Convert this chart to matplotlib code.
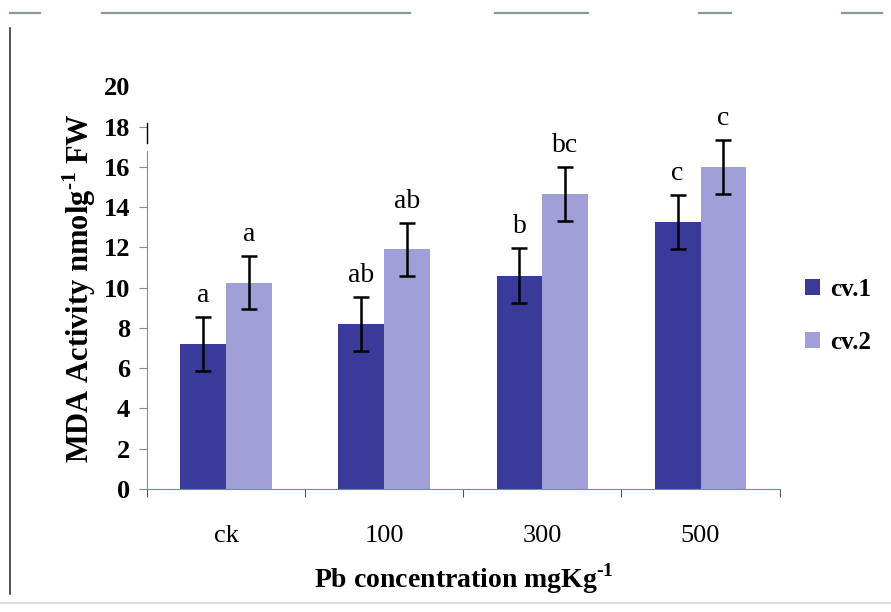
import numpy as np
import matplotlib.pyplot as plt
from matplotlib.lines import Line2D

# data
categories = ["ck", "100", "300", "500"]
cv1 = [7.2, 8.2, 10.6, 13.25]
cv2 = [10.25, 11.9, 14.65, 16.0]
cv1_err = [1.35, 1.35, 1.35, 1.35]
cv2_err = [1.3, 1.3, 1.35, 1.35]
cv1_letters = ["a", "ab", "b", "c"]
cv2_letters = ["a", "ab", "bc", "c"]

c1 = "#3a3a9a"
c2 = "#a19fd8"
serif = "Liberation Serif"
plt.rcParams["mathtext.fontset"] = "custom"
plt.rcParams["mathtext.rm"] = "Liberation Serif:bold"
plt.rcParams["mathtext.bf"] = "Liberation Serif:bold"

fig = plt.figure(figsize=(8.91, 6.12), dpi=100)
ax = fig.add_axes([0.165, 0.201, 0.71, 0.658])

x = np.arange(len(categories))
w = 0.29
ekw = dict(ecolor="black", elinewidth=1.8, capsize=6, capthick=1.8)
ax.bar(x - w / 2, cv1, w, color=c1, yerr=cv1_err, error_kw=ekw, label="cv.1", zorder=2)
ax.bar(x + w / 2, cv2, w, color=c2, yerr=cv2_err, error_kw=ekw, label="cv.2", zorder=2)

for i in range(len(categories)):
    ax.text(x[i] - w / 2, cv1[i] + cv1_err[i] + 0.45, cv1_letters[i],
            ha="center", va="bottom", fontsize=20, family=serif)
    ax.text(x[i] + w / 2, cv2[i] + cv2_err[i] + 0.45, cv2_letters[i],
            ha="center", va="bottom", fontsize=20, family=serif)

ax.set_xlim(-0.5, len(categories) - 0.5)
ax.set_ylim(0, 20)
ax.set_yticks(np.arange(0, 21, 2))
ax.set_xticks(np.arange(-0.5, len(categories), 1))
ax.set_xticklabels([])
ax.set_xticks(x, minor=True)
ax.set_xticklabels(categories, minor=True, fontsize=19, family=serif)
ax.tick_params(axis="x", which="minor", length=0, pad=26)
ax.tick_params(axis="x", which="major", length=6, direction="out", color="#555555")
ax.tick_params(axis="y", length=6, direction="out", pad=6, color="#7a88a0")
for lab in ax.get_yticklabels():
    lab.set_family(serif)
    lab.set_fontsize(19)
    lab.set_fontweight("bold")
ax.yaxis.get_major_ticks()[-1].tick1line.set_visible(False)

for s in ["top", "right"]:
    ax.spines[s].set_visible(False)
ax.spines["left"].set_bounds(0, 16.8)
ax.spines["bottom"].set_color("#6a8fa8")
ax.spines["left"].set_color("#8090a8")
# short dark segment at top of the y axis, as in the scan
ax.plot([-0.5, -0.5], [17.2, 18.2], color="black", lw=1.0, clip_on=False)

ax.set_ylabel("MDA Activity nmolg$^{\\text{-}1}$ FW", fontsize=22, fontweight="bold",
              family=serif, labelpad=4)
ax.set_xlabel("Pb concentration mgKg$^{\\text{-}1}$", fontsize=20, fontweight="bold",
              family=serif, labelpad=10)

leg = ax.legend(loc="center left", bbox_to_anchor=(1.005, 0.43), frameon=False,
                prop={"family": serif, "size": 18, "weight": "bold"}, handlelength=0.6,
                handleheight=0.6, handletextpad=0.4, labelspacing=1.2)

# scan frame remnants
fig.add_artist(Line2D([0.011, 0.011], [0.03, 0.955], color="#333333", lw=1.2))
for x0, x1 in [(0.011, 0.045), (0.115, 0.46), (0.555, 0.66), (0.785, 0.82), (0.945, 0.99)]:
    fig.add_artist(Line2D([x0, x1], [0.978, 0.978], color="#8a9a9a", lw=1.6))
fig.add_artist(Line2D([0.0, 1.0], [0.015, 0.015], color="#dddddd", lw=1.5))

fig.savefig("out.png", dpi=100)
